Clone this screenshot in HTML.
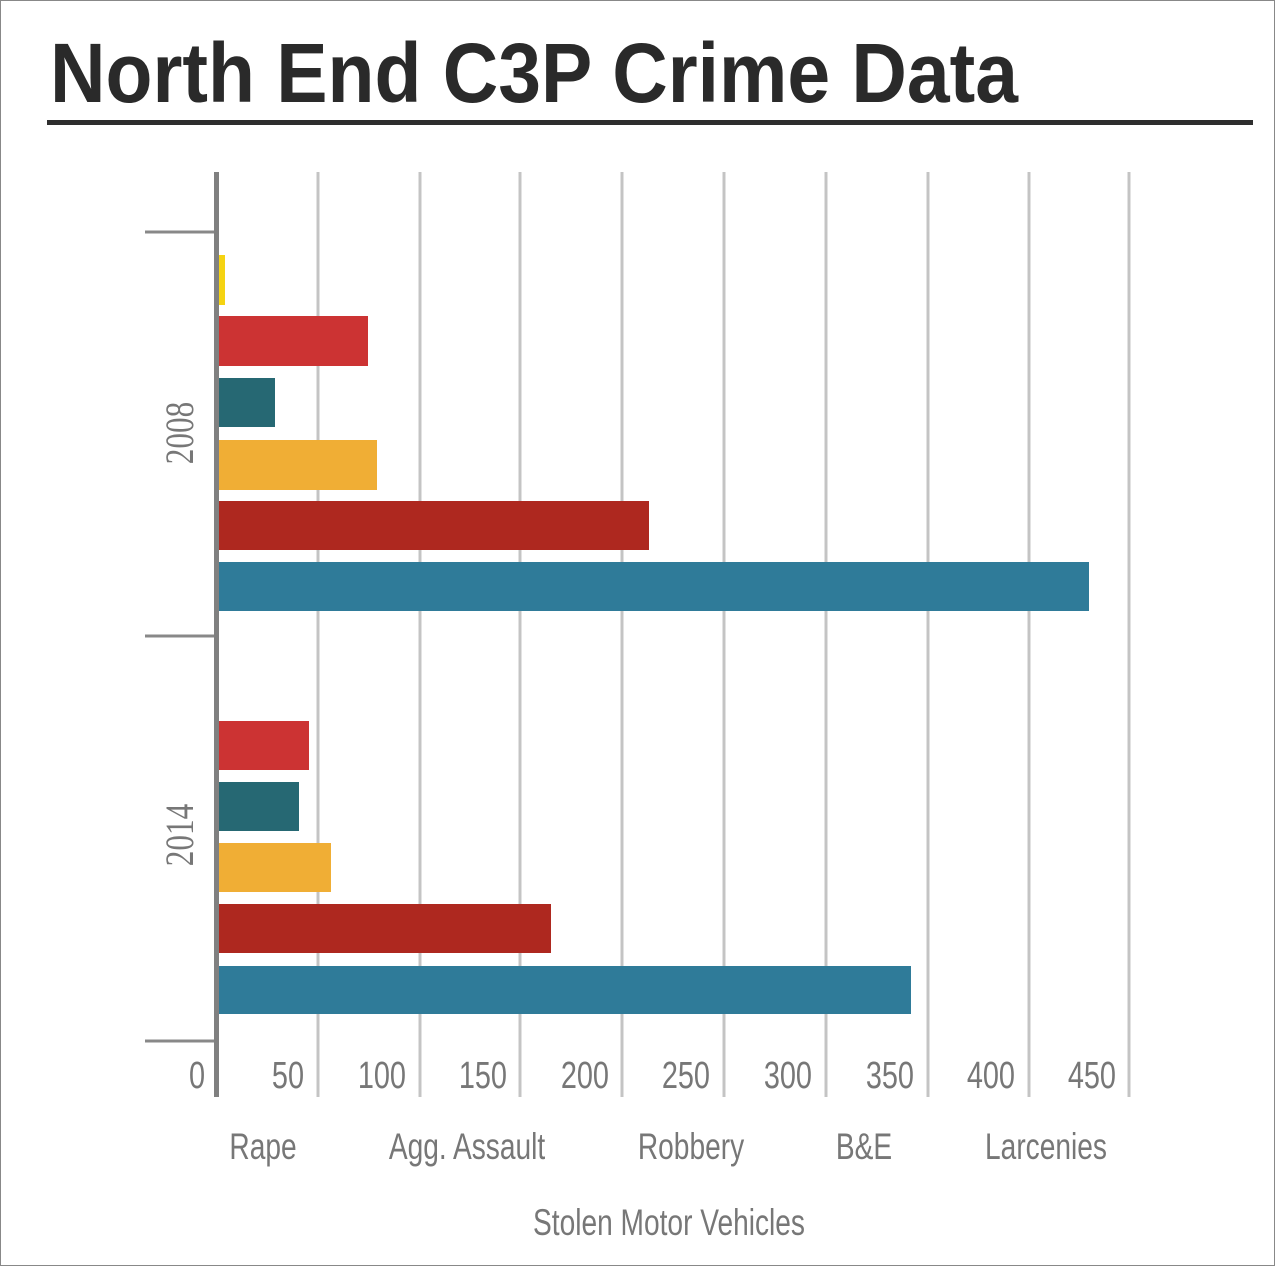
<!DOCTYPE html>
<html><head><meta charset="utf-8"><style>
html,body{margin:0;padding:0;background:#fff}
svg{display:block}
</style></head><body>
<svg width="1275" height="1266" viewBox="0 0 1275 1266" xmlns="http://www.w3.org/2000/svg">
<rect x="0.5" y="0.5" width="1274" height="1265" fill="#fff" stroke="#888" stroke-width="1"/>
<text x="50" y="102" font-family="Liberation Sans, sans-serif" font-weight="bold" font-size="84" fill="#2a2a2a" textLength="968" lengthAdjust="spacingAndGlyphs">North End C3P Crime Data</text>
<rect x="47" y="120" width="1206" height="5" fill="#2e2e2e"/>
<g stroke="#c4c4c4" stroke-width="3">
<line x1="318" y1="172" x2="318" y2="1097"/>
<line x1="420" y1="172" x2="420" y2="1097"/>
<line x1="520" y1="172" x2="520" y2="1097"/>
<line x1="622" y1="172" x2="622" y2="1097"/>
<line x1="724" y1="172" x2="724" y2="1097"/>
<line x1="826" y1="172" x2="826" y2="1097"/>
<line x1="928" y1="172" x2="928" y2="1097"/>
<line x1="1029" y1="172" x2="1029" y2="1097"/>
<line x1="1129" y1="172" x2="1129" y2="1097"/>
</g>
<g stroke="#888" stroke-width="3">
<line x1="145" y1="232" x2="216" y2="232"/>
<line x1="145" y1="636" x2="216" y2="636"/>
<line x1="145" y1="1041" x2="216" y2="1041"/>
</g>
<rect x="214" y="172" width="5" height="925" fill="#808080"/>
<rect x="219" y="255" width="6" height="50" fill="#f5d312"/>
<rect x="219" y="316" width="149" height="50" fill="#cc3333"/>
<rect x="219" y="378" width="56" height="49" fill="#266873"/>
<rect x="219" y="440" width="158" height="50" fill="#f0ae35"/>
<rect x="219" y="501" width="430" height="49" fill="#ae281f"/>
<rect x="219" y="562" width="870" height="49" fill="#2f7b99"/>
<rect x="219" y="721" width="90" height="49" fill="#cc3333"/>
<rect x="219" y="782" width="80" height="49" fill="#266873"/>
<rect x="219" y="843" width="112" height="49" fill="#f0ae35"/>
<rect x="219" y="904" width="332" height="49" fill="#ae281f"/>
<rect x="219" y="966" width="692" height="48" fill="#2f7b99"/>
<g font-family="Liberation Serif, serif" font-size="40" fill="#777" text-anchor="middle">
<text transform="translate(193,433) rotate(-90) scale(0.78,1)">2008</text>
<text transform="translate(193,835) rotate(-90) scale(0.78,1)">2014</text>
</g>
<g font-family="Liberation Sans, sans-serif" font-size="38" fill="#777" text-anchor="end">
<text transform="translate(205,1088) scale(0.76,1)">0</text>
<text transform="translate(304,1088) scale(0.76,1)">50</text>
<text transform="translate(406,1088) scale(0.76,1)">100</text>
<text transform="translate(507,1088) scale(0.76,1)">150</text>
<text transform="translate(609,1088) scale(0.76,1)">200</text>
<text transform="translate(710,1088) scale(0.76,1)">250</text>
<text transform="translate(812,1088) scale(0.76,1)">300</text>
<text transform="translate(914,1088) scale(0.76,1)">350</text>
<text transform="translate(1015,1088) scale(0.76,1)">400</text>
<text transform="translate(1116,1088) scale(0.76,1)">450</text>
</g>
<g font-family="Liberation Sans, sans-serif" font-size="37" fill="#777" text-anchor="middle">
<text transform="translate(263,1159) scale(0.76,1)">Rape</text>
<text transform="translate(467,1159) scale(0.76,1)">Agg. Assault</text>
<text transform="translate(691,1159) scale(0.76,1)">Robbery</text>
<text transform="translate(864,1159) scale(0.76,1)">B&amp;E</text>
<text transform="translate(1046,1159) scale(0.76,1)">Larcenies</text>
<text transform="translate(669,1235) scale(0.76,1)">Stolen Motor Vehicles</text>
</g>
</svg>
</body></html>
